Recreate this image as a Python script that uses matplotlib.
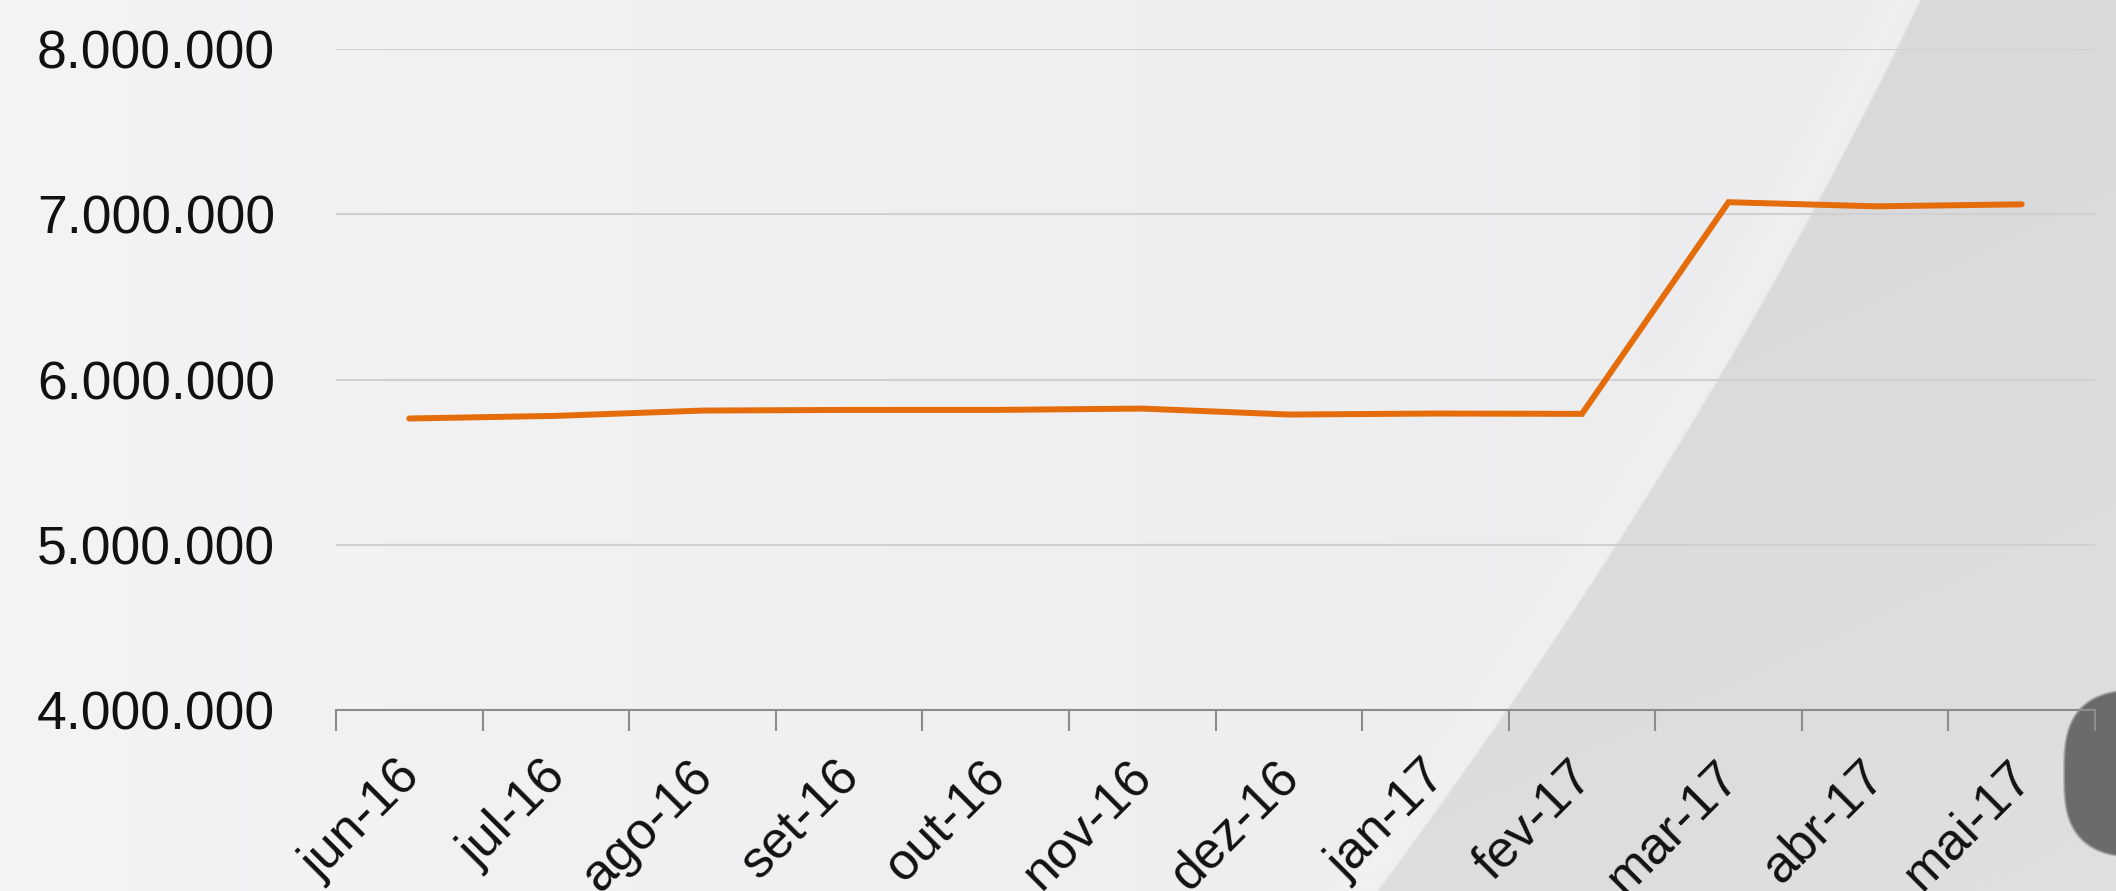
import numpy as np
import matplotlib
matplotlib.use("Agg")
import matplotlib.pyplot as plt
from matplotlib.ticker import FuncFormatter
from matplotlib.transforms import ScaledTranslation

MONTHS = ["jun-16", "jul-16", "ago-16", "set-16", "out-16", "nov-16",
          "dez-16", "jan-17", "fev-17", "mar-17", "abr-17", "mai-17"]
VALUES = [5764000, 5780000, 5812000, 5816000, 5816000, 5824000,
          5788000, 5794000, 5792000, 7073000, 7048000, 7060000]
Y_TICKS = [4000000, 5000000, 6000000, 7000000, 8000000]

W, H = 2116, 891
DPI = 100
LINE_COLOR = "#e46c0a"

plt.rcParams["font.family"] = ["Liberation Sans", "DejaVu Sans"]


def make_background():
    yy, xx = np.mgrid[0:H, 0:W].astype(float)
    base = 0.955 - 0.033 * (xx / W)
    # curved diagonal edge of the darker area on the right
    c = np.polyfit([0, 300, 600, 891], [1920, 1763, 1580, 1377], 2)
    xb = np.polyval(c, yy)
    d = xx - xb
    base = base + 0.012 * np.exp(-((d + 20) / 26) ** 2)
    dark = 0.846 + 0.022 * (yy / H) + 0.008 * ((xx - 1400) / 700)
    m = np.clip(d / 3 + 0.5, 0, 1)
    val = base * (1 - m) + dark * m
    # dark blob in the lower right corner
    blob = (np.abs(xx - 2140) / 78) ** 2.6 + (np.abs(yy - 773) / 85) ** 3
    bm = np.clip((1 - blob) * 10, 0, 1)
    val = val * (1 - bm) + 0.42 * bm
    img = np.dstack([val, val, np.clip(val * 1.006, 0, 1)])
    return img


fig = plt.figure(figsize=(W / DPI, H / DPI), dpi=DPI)

# background picture in its own axes, behind the chart
bg = fig.add_axes([0, 0, 1, 1])
bg.imshow(make_background(), aspect="auto", interpolation="bilinear")
bg.set_axis_off()
bg.set_zorder(0)

ax = fig.add_axes([336 / W, 1 - 710 / H, (2095 - 336) / W, (710 - 49) / H])
ax.set_zorder(1)
ax.patch.set_alpha(0)

x = np.arange(len(MONTHS))
ax.plot(x, VALUES, color=LINE_COLOR, lw=4.3, solid_capstyle="round",
        solid_joinstyle="miter", zorder=3)

ax.set_xlim(-0.5, len(MONTHS) - 0.5)
ax.set_ylim(Y_TICKS[0], Y_TICKS[-1])

ax.set_yticks(Y_TICKS)
ax.yaxis.set_major_formatter(FuncFormatter(lambda v, p: f"{v:,.0f}".replace(",", ".")))
ax.tick_params(axis="y", length=0, pad=44, labelsize=38.5, labelcolor="#111111")
ax.grid(axis="y", color="#d0d0d3", lw=1.5, zorder=1)

# boundary ticks (major, no labels) and centred labels (minor)
ax.set_xticks(np.arange(-0.5, len(MONTHS) + 0.5, 1.0))
ax.set_xticklabels([])
ax.tick_params(axis="x", which="major", length=15, width=1.5, color="#8c8c8c")
ax.set_xticks(x, MONTHS, minor=True)
ax.tick_params(axis="x", which="minor", length=0, pad=30, labelsize=37.5, labelcolor="#111111")
offset = ScaledTranslation(20 / DPI, 0, fig.dpi_scale_trans)
for lab in ax.get_xticklabels(minor=True):
    lab.set_rotation(45)
    lab.set_ha("right")
    lab.set_transform(lab.get_transform() + offset)

for s in ["top", "right", "left"]:
    ax.spines[s].set_visible(False)
ax.spines["bottom"].set_color("#8c8c8c")
ax.spines["bottom"].set_linewidth(1.5)
ax.spines["bottom"].set_zorder(2)

fig.savefig("out.png", dpi=DPI)
